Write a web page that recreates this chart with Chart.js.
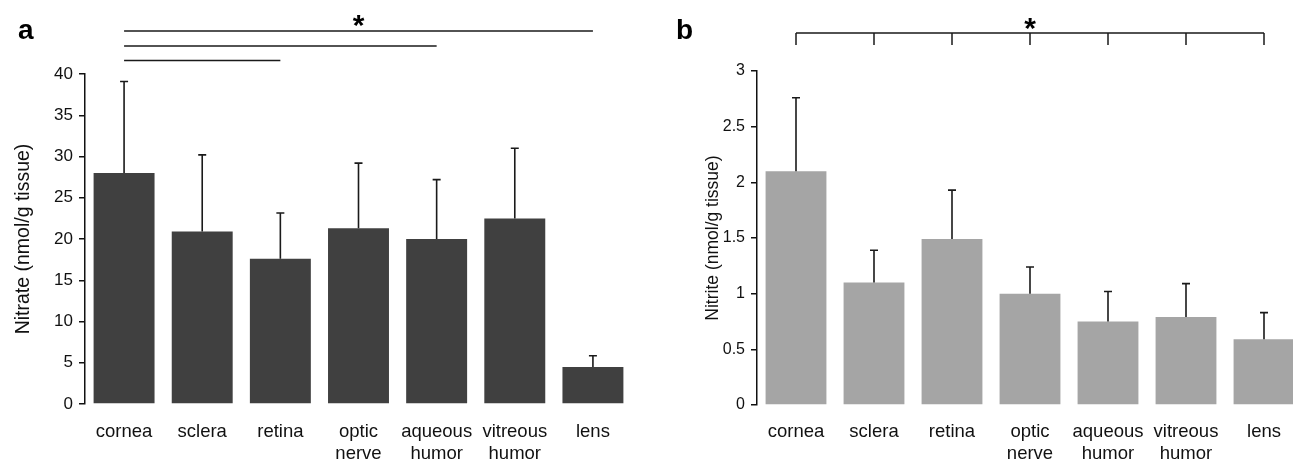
<!DOCTYPE html>
<html>
<head>
<meta charset="utf-8">
<script src="https://cdn.jsdelivr.net/npm/chart.js@4.4.1/dist/chart.umd.min.js"></script>
<style>
  html, body { margin: 0; padding: 0; background: #fff; }
  body { width: 1293px; height: 464px; position: relative; overflow: hidden; font-family: Arial, "Liberation Sans", sans-serif; }
  .panel { position: absolute; top: 0; height: 464px; }
</style>
</head>
<body>
<div class="panel" style="left:0;width:650px"><canvas id="chart-a"></canvas></div>
<div class="panel" style="left:650px;width:700px"><canvas id="chart-b"></canvas></div>

<script>
// ─── Data ─────────────────────────────────────────────────────────────────────
const tissues = ['cornea', 'sclera', 'retina', ['optic', 'nerve'], ['aqueous', 'humor'], ['vitreous', 'humor'], 'lens'];

const nitrateMean = [28.0, 20.9, 17.6, 21.3, 20.0, 22.5, 4.5];
const nitrateSD   = [11.1, 9.3, 5.55, 7.9, 7.2, 8.5, 1.35];
const nitrateTicks = [0, 5, 10, 15, 20, 25, 30, 35, 40];
const nitrateSig = [[0, 6], [0, 4], [0, 2]];   // cornea vs lens / aqueous / retina

const nitriteMean = [2.10, 1.10, 1.49, 1.00, 0.75, 0.79, 0.59];
const nitriteSD   = [0.66, 0.29, 0.44, 0.24, 0.27, 0.30, 0.24];
const nitriteTicks = [0, 0.5, 1, 1.5, 2, 2.5, 3];
const nitriteBracket = [0, 1, 2, 3, 4, 5, 6];  // all groups differ

// ─── Plugins ──────────────────────────────────────────────────────────────────
function errorBarsPlugin(sd) {
  return {
    id: 'errorBars',
    afterDatasetsDraw(chart) {
      const ctx = chart.ctx;
      const y = chart.scales.y;
      const meta = chart.getDatasetMeta(0);
      const data = chart.data.datasets[0].data;
      ctx.save();
      ctx.strokeStyle = '#1a1a1a';
      ctx.lineWidth = 1.6;
      meta.data.forEach((bar, i) => {
        const top = y.getPixelForValue(data[i] + sd[i]);
        ctx.beginPath();
        ctx.moveTo(bar.x, bar.y);
        ctx.lineTo(bar.x, top);
        ctx.moveTo(bar.x - 4, top);
        ctx.lineTo(bar.x + 4, top);
        ctx.stroke();
      });
      ctx.restore();
    },
  };
}

function marksPlugin(cfg) {
  return {
    id: 'marks',
    afterDraw(chart) {
      const ctx = chart.ctx;
      const x = chart.scales.x;
      ctx.save();
      // panel letter
      ctx.fillStyle = '#000';
      ctx.font = 'bold 28px Arial, "Liberation Sans", sans-serif';
      ctx.textBaseline = 'alphabetic';
      ctx.textAlign = 'left';
      ctx.fillText(cfg.letter, cfg.letterX, 39);

      ctx.strokeStyle = '#1a1a1a';
      ctx.lineWidth = 1.5;
      let starX;
      if (cfg.lines) {
        cfg.lines.forEach(([a, b], k) => {
          const yy = cfg.lineY[k];
          ctx.beginPath();
          ctx.moveTo(x.getPixelForValue(a), yy);
          ctx.lineTo(x.getPixelForValue(b), yy);
          ctx.stroke();
        });
        const [a, b] = cfg.lines[0];
        starX = (x.getPixelForValue(a) + x.getPixelForValue(b)) / 2;
      } else {
        const first = x.getPixelForValue(cfg.bracket[0]);
        const last = x.getPixelForValue(cfg.bracket[cfg.bracket.length - 1]);
        ctx.beginPath();
        ctx.moveTo(first, cfg.bracketY);
        ctx.lineTo(last, cfg.bracketY);
        cfg.bracket.forEach(i => {
          const px = x.getPixelForValue(i);
          ctx.moveTo(px, cfg.bracketY);
          ctx.lineTo(px, cfg.bracketY + 12);
        });
        ctx.stroke();
        starX = x.getPixelForValue(cfg.bracket[3]);
      }
      ctx.font = 'bold 30px Arial, "Liberation Sans", sans-serif';
      ctx.textAlign = 'center';
      ctx.fillText('*', starX, cfg.starY);
      ctx.restore();
    },
  };
}

// ─── Panels ───────────────────────────────────────────────────────────────────
function makePanel(id, cfg) {
  const ctx = document.getElementById(id).getContext('2d');
  return new Chart(ctx, {
    type: 'bar',
    data: {
      labels: tissues,
      datasets: [{
        data: cfg.mean,
        backgroundColor: cfg.color,
        barPercentage: 0.78,
        categoryPercentage: 1,
      }],
    },
    options: {
      responsive: true, maintainAspectRatio: false, animation: false,
      layout: { padding: { top: cfg.top, right: cfg.padRight, left: 0, bottom: 0 } },
      plugins: { legend: { display: false }, tooltip: { enabled: false } },
      scales: {
        x: {
          grid: { display: false, drawTicks: false },
          border: { display: false },
          ticks: { color: '#111', font: { size: 18.5, lineHeight: 1.19 }, padding: cfg.xPad, maxRotation: 0, autoSkip: false },
          afterFit: s => { s.height = cfg.xHeight; },
        },
        y: {
          min: 0, max: cfg.ticks[cfg.ticks.length - 1],
          border: { display: true, color: '#111', width: 1.5 },
          grid: { drawOnChartArea: false, color: '#111', lineWidth: 1.5, tickLength: 6 },
          ticks: { color: '#111', font: { size: cfg.yFont }, padding: 6, callback: v => String(+(+v).toFixed(2)) },
          afterBuildTicks: s => { s.ticks = cfg.ticks.map(v => ({ value: v })); },
          afterFit: s => { s.width = cfg.yWidth; },
          title: { display: true, text: cfg.title, color: '#111', font: { size: cfg.titleFont }, padding: { top: cfg.titlePad, bottom: 0 } },
        },
      },
    },
    plugins: [errorBarsPlugin(cfg.sd), marksPlugin(cfg)],
  });
}

makePanel('chart-a', {
  mean: nitrateMean, sd: nitrateSD, ticks: nitrateTicks, color: '#404040',
  title: 'Nitrate (nmol/g tissue)',
  top: 74, padRight: 18, yWidth: 85, xHeight: 60,
  xPad: 17, yFont: 17, titleFont: 19.5, titlePad: 12,
  letter: 'a', letterX: 18,
  lines: nitrateSig, lineY: [31, 46, 60.5], starY: 35,
});

makePanel('chart-b', {
  mean: nitriteMean, sd: nitriteSD, ticks: nitriteTicks, color: '#a5a5a5',
  title: 'Nitrite (nmol/g tissue)',
  top: 71, padRight: 47, yWidth: 107, xHeight: 59,
  xPad: 16, yFont: 16, titleFont: 17.5, titlePad: 53,
  letter: 'b', letterX: 26,
  bracket: nitriteBracket, bracketY: 33, starY: 38,
});
</script>
</body>
</html>
